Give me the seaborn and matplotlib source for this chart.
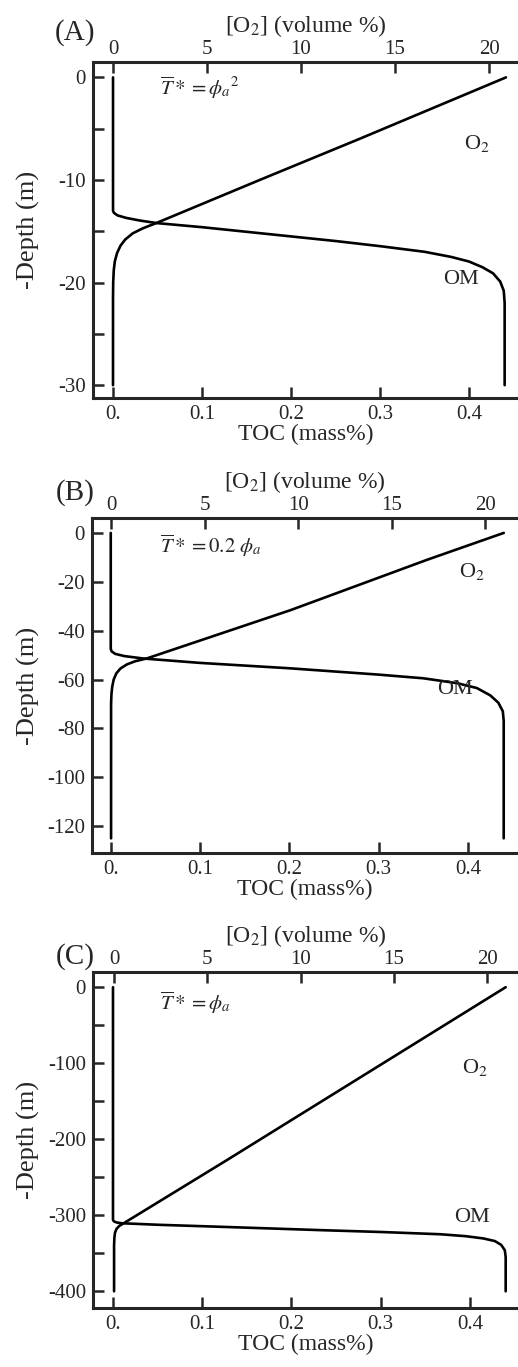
import matplotlib
matplotlib.use("Agg")
import matplotlib.pyplot as plt
import seaborn as sns
import pandas as pd

# ---------------- data ----------------
# Panel A
a_om_toc   = [0, 0, 0.001, 0.005, 0.015, 0.03, 0.049, 0.10, 0.15, 0.20, 0.25, 0.30, 0.35, 0.38,
              0.40, 0.415, 0.427, 0.435, 0.439, 0.44, 0.44]
a_om_depth = [0, -13.0, -13.2, -13.45, -13.7, -13.95, -14.2, -14.6, -15.05, -15.5, -15.95, -16.45,
              -17.0, -17.5, -17.95, -18.5, -19.1, -19.9, -20.8, -22, -30]
a_o2_val   = [20.9, 13.1, 7.8, 2.3, 1.6, 1.05, 0.65, 0.4, 0.22, 0.1, 0.04, 0.01, 0, 0]
a_o2_depth = [0, -6, -10, -14.2, -14.7, -15.2, -15.8, -16.4, -17.1, -17.9, -18.8, -20, -21.5, -30]

# Panel B
b_om_toc   = [0, 0, 0.001, 0.005, 0.015, 0.0365, 0.10, 0.20, 0.30, 0.35, 0.388, 0.41, 0.425,
              0.434, 0.439, 0.44, 0.44]
b_om_depth = [0, -47.5, -48.5, -49.5, -50.4, -51.4, -53.2, -55.4, -58, -59.5, -61.5, -63.5, -66.5,
              -69.5, -73, -77, -125]
b_o2_val   = [21.0, 16.9, 9.6, 1.9, 1.3, 0.85, 0.5, 0.28, 0.14, 0.06, 0.02, 0, 0]
b_o2_depth = [0, -11, -31.6, -51.4, -52.5, -53.8, -55.5, -57.5, -60, -63, -66, -70, -125]

# Panel C
c_om_toc   = [0, 0, 0.001, 0.004, 0.0098, 0.05, 0.116, 0.236, 0.30, 0.367, 0.395, 0.415, 0.428,
              0.435, 0.439, 0.44, 0.44]
c_om_depth = [0, -306, -308, -309.5, -310.5, -312.5, -315, -319.7, -322, -325, -327.5, -330.5,
              -334, -339, -346, -355, -400]
c_o2_val   = [21.0, 6.04, 0.55, 0.28, 0.13, 0.05, 0.015, 0, 0]
c_o2_depth = [0, -227.6, -310, -314, -318, -323, -330, -340, -400]

toc_ticks = [0, 0.1, 0.2, 0.3, 0.4]
toc_labels = ["0.", "0.1", "0.2", "0.3", "0.4"]
o2_ticks = [0, 5, 10, 15, 20]
o2_labels = ["0", "5", "10", "15", "20"]

a_yticks = [0, -5, -10, -15, -20, -25, -30]
a_ylabels = ["0", "", "-10", "", "-20", "", "-30"]
b_yticks = [0, -20, -40, -60, -80, -100, -120]
b_ylabels = ["0", "-20", "-40", "-60", "-80", "-100", "-120"]
c_yticks = [0, -50, -100, -150, -200, -250, -300, -350, -400]
c_ylabels = ["0", "", "-100", "", "-200", "", "-300", "", "-400"]

panel_letters = ["(A)", "(B)", "(C)"]
annotations = [r"$\overline{T}* = \phi_a{}^{2}$", r"$\overline{T}* = 0.2\ \phi_a$", r"$\overline{T}* =\phi_a$"]

# ---------------- style ----------------
sns.set_style("ticks")
plt.rcParams["font.family"] = ["Liberation Serif", "DejaVu Serif"]
plt.rcParams["mathtext.fontset"] = "stix"

W, H = 518, 1367
fig = plt.figure(figsize=(W / 100, H / 100), dpi=100)

def add_ax(left, top, right, bottom):
    return fig.add_axes([left / W, 1 - bottom / H, (right - left) / W, (bottom - top) / H])

panels = [
    dict(box=(93, 62, 518, 398), xlim=(-0.0225, 0.455), x2lim=(-1.064, 21.54), ylim=(-31.25, 1.5),
         om=(a_om_toc, a_om_depth), o2=(a_o2_val, a_o2_depth), yt=(a_yticks, a_ylabels),
         o2_lab=(477, 143), om_lab=(461, 280), ann=(160, 95), letter=33),
    dict(box=(92, 518, 518, 853), xlim=(-0.021, 0.456), x2lim=(-1.02, 21.76), ylim=(-131, 6.1),
         om=(b_om_toc, b_om_depth), o2=(b_o2_val, b_o2_depth), yt=(b_yticks, b_ylabels),
         o2_lab=(472, 572), om_lab=(455, 690), ann=(160, 553), letter=493),
    dict(box=(93, 972, 518, 1308), xlim=(-0.0224, 0.4538), x2lim=(-1.13, 21.66), ylim=(-422, 20),
         om=(c_om_toc, c_om_depth), o2=(c_o2_val, c_o2_depth), yt=(c_yticks, c_ylabels),
         o2_lab=(475, 1068), om_lab=(472, 1217), ann=(160, 1010), letter=957),
]

lw_spine = 2.2
tick_fs = 15
lab_fs = 17

for i, p in enumerate(panels):
    l, t, r, b = p["box"]
    ax = add_ax(l, t, r, b)
    ax2 = ax.twiny()

    om_df = pd.DataFrame({"toc": p["om"][0], "depth": p["om"][1]})
    o2_df = pd.DataFrame({"o2": p["o2"][0], "depth": p["o2"][1]})
    sns.lineplot(data=om_df, x="toc", y="depth", sort=False, estimator=None,
                 color="black", lw=1.9, ax=ax)
    sns.lineplot(data=o2_df, x="o2", y="depth", sort=False, estimator=None,
                 color="black", lw=1.9, ax=ax2)

    ax.set_xlim(*p["xlim"])
    ax2.set_xlim(*p["x2lim"])
    ax.set_ylim(*p["ylim"])

    for s in ["top", "right"]:
        ax.spines[s].set_visible(False)
    for s in ["bottom", "left", "right"]:
        ax2.spines[s].set_visible(False)
    for s in ["bottom", "left"]:
        ax.spines[s].set_linewidth(lw_spine)
    ax2.spines["top"].set_linewidth(lw_spine)

    ax.set_xticks(toc_ticks)
    ax.set_xticklabels(toc_labels)
    ax.set_yticks(p["yt"][0])
    ax.set_yticklabels(p["yt"][1])
    ax2.set_xticks(o2_ticks)
    ax2.set_xticklabels(o2_labels)

    ax.tick_params(axis="both", direction="in", length=8, width=1.8, labelsize=tick_fs,
                   top=False, right=False, pad=5)
    ax2.tick_params(axis="x", direction="in", length=8, width=1.8, labelsize=tick_fs,
                    top=True, bottom=False, labeltop=True, labelbottom=False, pad=2)

    ax.set_xlabel("TOC (mass%)", fontsize=lab_fs, labelpad=0)
    ax.set_ylabel("-Depth (m)", fontsize=19)
    ax.yaxis.set_label_coords((40 - l) / (r - l), 0.5)
    ax2.set_xlabel(r"[O$_2$] (volume %)", fontsize=lab_fs, labelpad=6)

    fig.text(75 / W, 1 - p["letter"] / H, panel_letters[i], fontsize=21, ha="center", va="center")

    ox, oy = p["o2_lab"]
    fig.text(ox / W, 1 - oy / H, r"O$_2$", fontsize=16, ha="center", va="center")
    mx, my = p["om_lab"]
    fig.text(mx / W, 1 - my / H, "OM", fontsize=16, ha="center", va="center")
    axx, axy = p["ann"]
    fig.text(axx / W, 1 - axy / H, annotations[i], fontsize=15, ha="left", va="baseline")

fig.savefig("out.png", dpi=100)
